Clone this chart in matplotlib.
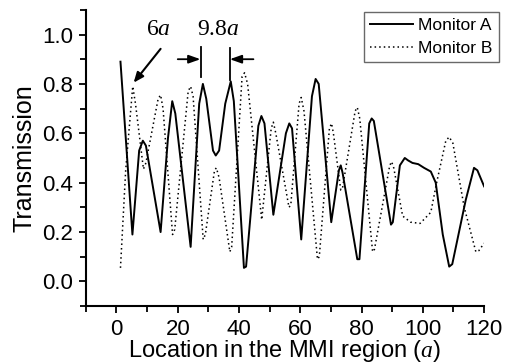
import matplotlib
matplotlib.use("Agg")
import matplotlib.pyplot as plt
from matplotlib.ticker import MultipleLocator, FormatStrFormatter

plt.rcParams["font.family"] = ["Liberation Sans", "DejaVu Sans"]
plt.rcParams["mathtext.fontset"] = "custom"
plt.rcParams["mathtext.it"] = "Liberation Serif:italic"
plt.rcParams["mathtext.rm"] = "Liberation Serif"

# Monitor A (solid)
a_x = [1.3, 3.2, 5.2, 7.4, 8.6, 9.6, 14.4, 16.8, 18.2, 19.2, 24.2, 27.0, 28.2,
       29.3, 31.5, 32.4, 33.5, 35.5, 37.3, 38.3, 41.6, 42.3, 46.3, 47.3, 48.3,
       51.2, 55.3, 56.4, 57.3, 60.3, 63.8, 65.0, 66.0, 70.1, 72.6, 73.2, 73.8,
       78.6, 79.3, 82.5, 83.3, 84.0, 89.6, 90.2, 92.5, 94.1, 95.2, 96.6, 98.5,
       100.4, 102.6, 104.2, 106.5, 108.6, 109.6, 114.0, 116.7, 117.8, 120.0]
a_y = [0.89, 0.55, 0.19, 0.53, 0.57, 0.55, 0.20, 0.58, 0.73, 0.68, 0.14, 0.72, 0.80,
       0.74, 0.53, 0.51, 0.53, 0.72, 0.81, 0.73, 0.055, 0.06, 0.63, 0.67, 0.64,
       0.27, 0.60, 0.64, 0.62, 0.17, 0.75, 0.82, 0.80, 0.24, 0.45, 0.47, 0.44,
       0.09, 0.09, 0.64, 0.66, 0.65, 0.23, 0.24, 0.47, 0.50, 0.49, 0.48, 0.475,
       0.46, 0.445, 0.40, 0.19, 0.06, 0.07, 0.33, 0.46, 0.45, 0.385]

# Monitor B (dotted)
b_x = [1.3, 3.0, 5.3, 6.2, 8.8, 9.6, 13.6, 14.4, 15.2, 18.3, 19.0, 23.4, 24.2,
       25.0, 28.3, 29.0, 32.0, 32.6, 33.5, 37.0, 37.6, 41.0, 41.8, 42.8, 47.4,
       50.5, 51.2, 52.0, 56.3, 56.9, 59.6, 60.3, 61.2, 65.6, 66.2, 69.5, 70.2,
       70.8, 73.2, 73.8, 77.9, 78.6, 79.4, 83.6, 84.2, 89.2, 89.8, 90.5, 93.4,
       96.0, 99.1, 102.6, 104.5, 107.5, 108.6, 109.8, 113.5, 117.3, 118.3, 120.0]
b_y = [0.055, 0.45, 0.79, 0.72, 0.455, 0.48, 0.74, 0.755, 0.70, 0.19, 0.21, 0.77, 0.79,
       0.75, 0.17, 0.19, 0.45, 0.46, 0.42, 0.12, 0.14, 0.83, 0.845, 0.80, 0.25,
       0.62, 0.645, 0.60, 0.30, 0.31, 0.72, 0.745, 0.69, 0.09, 0.10, 0.62, 0.64,
       0.60, 0.37, 0.38, 0.69, 0.705, 0.66, 0.12, 0.13, 0.47, 0.485, 0.46, 0.265,
       0.24, 0.235, 0.28, 0.40, 0.57, 0.585, 0.56, 0.30, 0.12, 0.125, 0.155]

fig = plt.figure(figsize=(5.08, 3.64), dpi=100)
ax = fig.add_axes([0.169, 0.159, 0.784, 0.814])

ax.plot(a_x, a_y, color="black", lw=1.4, label="Monitor A")
ax.plot(b_x, b_y, color="black", lw=1.1, linestyle=(0, (1, 2.0)), label="Monitor B")

ax.set_xlim(-10, 120)
ax.set_ylim(-0.1, 1.1)
ax.xaxis.set_major_locator(MultipleLocator(20))
ax.xaxis.set_minor_locator(MultipleLocator(10))
ax.yaxis.set_major_locator(MultipleLocator(0.2))
ax.yaxis.set_minor_locator(MultipleLocator(0.1))
ax.yaxis.set_major_formatter(FormatStrFormatter("%.1f"))
for s in ("top", "right"):
    ax.spines[s].set_visible(False)
for s in ("left", "bottom"):
    ax.spines[s].set_linewidth(1.5)
ax.tick_params(which="both", direction="out", width=1.3, labelsize=16)
ax.tick_params(which="major", length=5, pad=4)
ax.tick_params(which="minor", length=4)
ax.tick_params(axis="x", pad=4)

ax.set_xlabel("Location in the MMI region ($a$)", fontsize=17, labelpad=-1)
ax.set_ylabel("Transmission", fontsize=18, labelpad=4)

# annotations
ax.text(13.7, 1.02, "6$a$", family="Liberation Serif", fontsize=17,
        ha="center", va="center")
ax.annotate("", xy=(5.6, 0.805), xytext=(14.4, 0.942),
            arrowprops=dict(arrowstyle="-|>,head_length=0.6,head_width=0.25",
                            color="black", lw=1.5, shrinkA=0, shrinkB=0))
ax.text(33.3, 1.02, "9.8$a$", family="Liberation Serif", fontsize=17,
        ha="center", va="center")
ax.plot([27.5, 27.5], [0.827, 0.948], color="black", lw=1.3)
ax.plot([36.9, 36.9], [0.815, 0.946], color="black", lw=1.3)
ax.annotate("", xy=(27.4, 0.90), xytext=(20.0, 0.90),
            arrowprops=dict(arrowstyle="-|>,head_length=0.7,head_width=0.25",
                            color="black", lw=1.3, shrinkA=0, shrinkB=0))
ax.annotate("", xy=(37.0, 0.90), xytext=(44.7, 0.90),
            arrowprops=dict(arrowstyle="-|>,head_length=0.7,head_width=0.25",
                            color="black", lw=1.3, shrinkA=0, shrinkB=0))

leg = fig.legend(loc="upper right", bbox_to_anchor=(0.982, 0.967), fontsize=12.5,
                 frameon=True, fancybox=False, handlelength=2.5, handletextpad=0.3,
                 borderpad=0.35, labelspacing=0.45, borderaxespad=0)
leg.get_frame().set_edgecolor("#444444")
leg.get_frame().set_linewidth(1.0)

fig.savefig("out.png", dpi=100)
